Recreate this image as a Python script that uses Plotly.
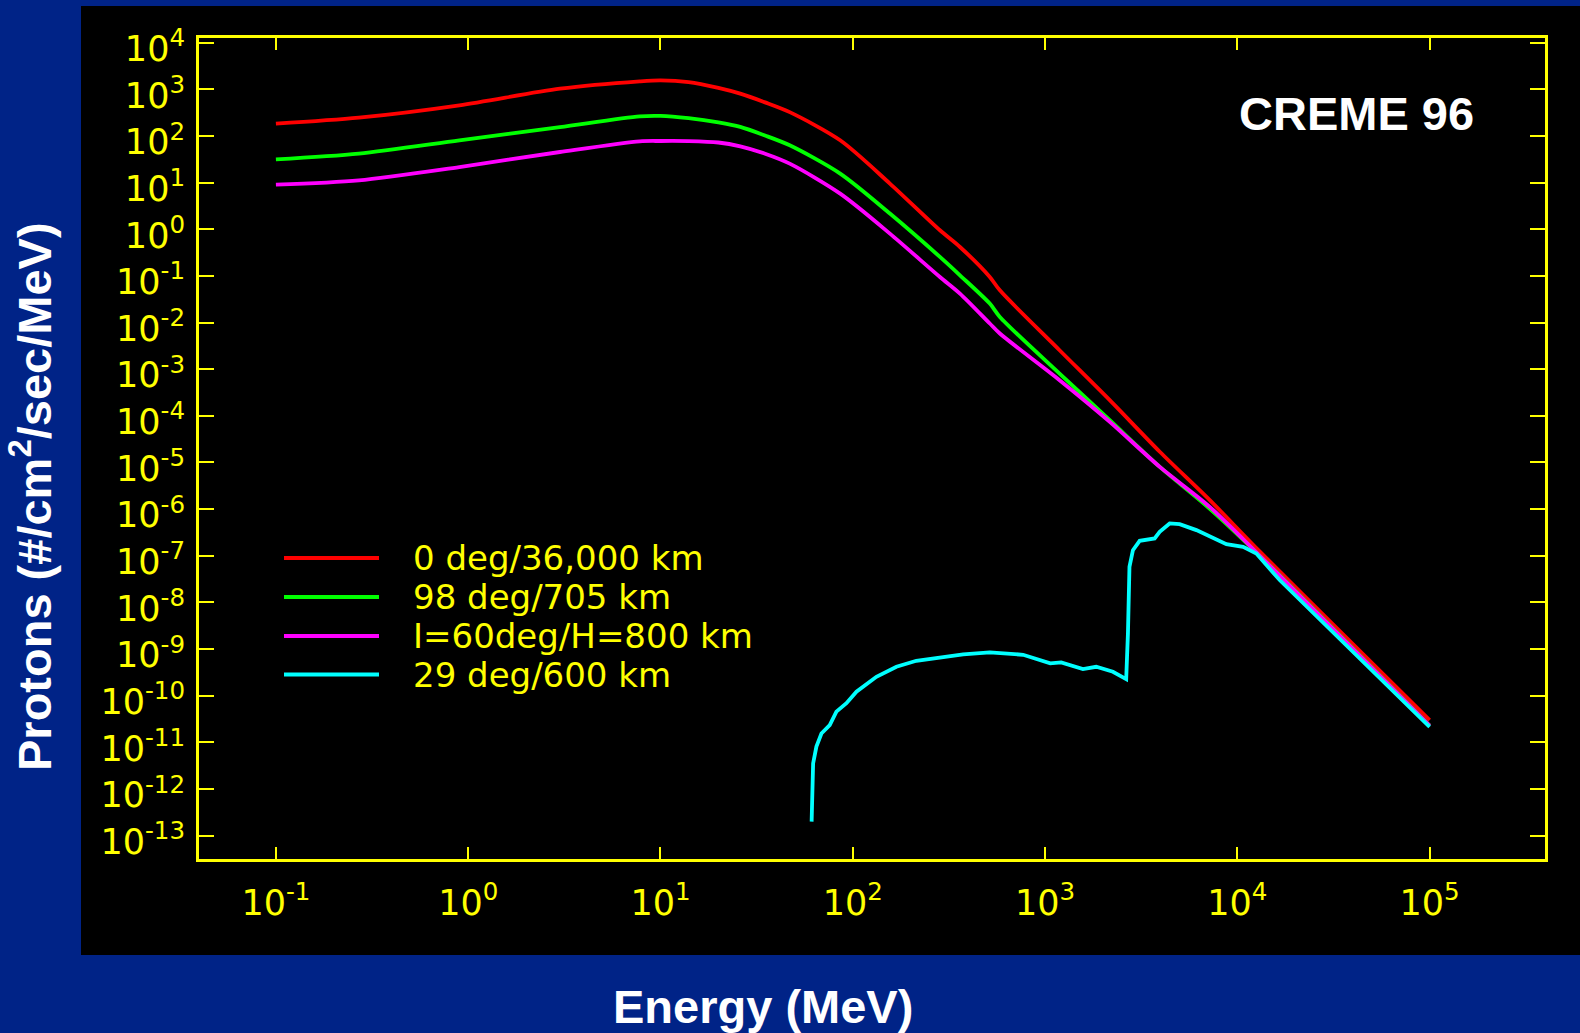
import plotly.graph_objects as go

# ---------------- data ----------------
series_names = ["0 deg/36,000 km", "98 deg/705 km", "I=60deg/H=800 km", "29 deg/600 km"]
series_colors = ["#FF0000", "#00FF00", "#FF00FF", "#00FFFF"]

energy_mev = [0.1, 0.27, 0.9, 3.0, 7.8, 10, 14, 20, 26, 35, 47, 86, 156, 284, 361, 516, 582,
              1190, 2170, 3950, 7190, 13100, 100000]
flux_geo = [184, 247, 454, 1030, 1480, 1556, 1430, 1072, 807, 525, 324, 80.7, 9.53, 0.95, 0.417,
            0.0951, 0.049, 2.55e-3, 2.17e-4, 1.7e-5, 1.56e-6, 1.23e-7, 3.0e-11]
flux_polar = [31.6, 41.9, 80.5, 155, 263, 269, 240, 195, 156, 102, 63, 15.6, 2.17, 0.255, 0.103,
              0.0255, 0.0132, 8.07e-4, 8.07e-5, 8.07e-6, 1.02e-6, 1.0e-7, 2.3e-11]
flux_60deg = [9.06, 11.2, 21.6, 45.3, 76.7, 78, 77.6, 72.4, 60, 41.7, 25.5, 5.8, 0.807, 0.095, 0.0419,
              9.55e-3, 5.82e-3, 5.81e-4, 7.43e-5, 8.05e-6, 1.12e-6, 1.0e-7, 2.3e-11]

energy_leo = [61.1, 61.5, 62.2, 64.7, 68.7, 75.9, 82.2, 92.7, 104.5, 132.7,
              168.7, 214, 283, 375, 516, 769, 1064, 1213, 1574, 1845,
              2254, 2642, 2698, 2748, 2864, 3105, 3715, 3945, 4446, 5012,
              6124, 7482, 8770, 10715, 12560, 16600, 100000]
flux_leo = [2.0e-13, 1.84e-12, 3.55e-12, 8.13e-12, 1.55e-11, 2.34e-11, 4.57e-11, 6.92e-11, 1.22e-10, 2.55e-10,
            4.18e-10, 5.62e-10, 6.52e-10, 7.69e-10, 8.51e-10, 7.55e-10, 4.93e-10, 5.19e-10, 3.72e-10, 4.18e-10,
            3.27e-10, 2.28e-10, 2.17e-9, 5.81e-8, 1.32e-7, 2.09e-7, 2.36e-7, 3.27e-7, 4.93e-7, 4.76e-7,
            3.55e-7, 2.36e-7, 1.78e-7, 1.56e-7, 1.12e-7, 3.02e-8, 2.16e-11]

x_tick_exponents = [-1, 0, 1, 2, 3, 4, 5]
y_tick_exponents = list(range(-13, 5))

x_title = "Energy (MeV)"
y_title = "Protons (#/cm<sup>2</sup>/sec/MeV)"
chart_label = "CREME 96"

# ---------------- layout geometry ----------------
W, H = 1580, 1033
ML, MR, MT, MB = 199, 35, 38, 174
PW, PH = W - ML - MR, H - MT - MB


def px2x(px):
    return (px - ML) / PW


def py2y(py):
    return (H - MB - py) / PH


NAVY = "#002387"
YELLOW = "#FFFF00"
TICK_FONT = dict(family="DejaVu Sans", size=35, color=YELLOW)
BOLD = "Liberation Sans, Arial, sans-serif"

fig = go.Figure()

curve_data = [
    (energy_mev, flux_geo, "spline"),
    (energy_mev, flux_polar, "spline"),
    (energy_mev, flux_60deg, "spline"),
    (energy_leo, flux_leo, "linear"),
]
for (xs, ys, shp), name, color in zip(curve_data, series_names, series_colors):
    line = dict(color=color, width=3.8, shape=shp)
    if shp == "spline":
        line["smoothing"] = 0.8
    fig.add_trace(go.Scatter(x=xs, y=ys, mode="lines", name=name, line=line,
                             showlegend=False, hoverinfo="skip"))

# black panel behind the plot
shapes = [dict(type="rect", xref="paper", yref="paper", layer="below",
               x0=px2x(81), x1=px2x(1580), y0=py2y(955), y1=py2y(6),
               fillcolor="black", line=dict(width=0))]

annotations = []
# legend drawn as sample lines + labels
legend_rows = [558, 597, 636, 674.5]
for ry, name, color in zip(legend_rows, series_names, series_colors):
    shapes.append(dict(type="line", xref="paper", yref="paper",
                       x0=px2x(284), x1=px2x(379), y0=py2y(ry), y1=py2y(ry),
                       line=dict(color=color, width=4)))
    annotations.append(dict(xref="paper", yref="paper", x=px2x(411), y=py2y(ry),
                            xanchor="left", yanchor="middle", showarrow=False,
                            text=name, font=dict(family="DejaVu Sans", size=34, color=YELLOW)))

annotations.append(dict(xref="paper", yref="paper", x=px2x(1356), y=py2y(113),
                        xanchor="center", yanchor="middle", showarrow=False,
                        text="<b>%s</b>" % chart_label,
                        font=dict(family=BOLD, size=47, color="white")))
annotations.append(dict(xref="paper", yref="paper", x=px2x(763), y=py2y(1006),
                        xanchor="center", yanchor="middle", showarrow=False,
                        text="<b>%s</b>" % x_title,
                        font=dict(family=BOLD, size=47, color="white")))
annotations.append(dict(xref="paper", yref="paper", x=px2x(31), y=py2y(497),
                        xanchor="center", yanchor="middle", showarrow=False, textangle=-90,
                        text="<b>%s</b>" % y_title,
                        font=dict(family=BOLD, size=47, color="white")))

fig.update_layout(
    width=W, height=H,
    margin=dict(l=ML, r=MR, t=MT, b=MB, pad=0),
    paper_bgcolor=NAVY, plot_bgcolor="black",
    shapes=shapes, annotations=annotations,
    showlegend=False,
)

fig.update_xaxes(
    type="log", range=[-1.4, 5.6],
    tickvals=[10.0 ** e for e in x_tick_exponents],
    ticktext=["10<sup>%d</sup>" % e for e in x_tick_exponents],
    ticks="inside", ticklen=12, tickwidth=2, tickcolor=YELLOW,
    showline=True, linecolor=YELLOW, linewidth=3, mirror="allticks",
    showgrid=False, zeroline=False, tickfont=TICK_FONT, ticklabelstandoff=11,
)
fig.update_yaxes(
    type="log", range=[-13.5, 4.1],
    tickvals=[10.0 ** e for e in y_tick_exponents],
    ticktext=["10<sup>%d</sup>" % e for e in y_tick_exponents],
    ticks="inside", ticklen=15, tickwidth=2, tickcolor=YELLOW,
    showline=True, linecolor=YELLOW, linewidth=3, mirror="allticks",
    showgrid=False, zeroline=False, tickfont=TICK_FONT, ticklabelstandoff=4,
    ticklabelshift=6,
)

fig.write_html("out.html", config={"displayModeBar": False},
               post_script="document.body.style.margin='0';document.body.style.overflow='hidden';")
